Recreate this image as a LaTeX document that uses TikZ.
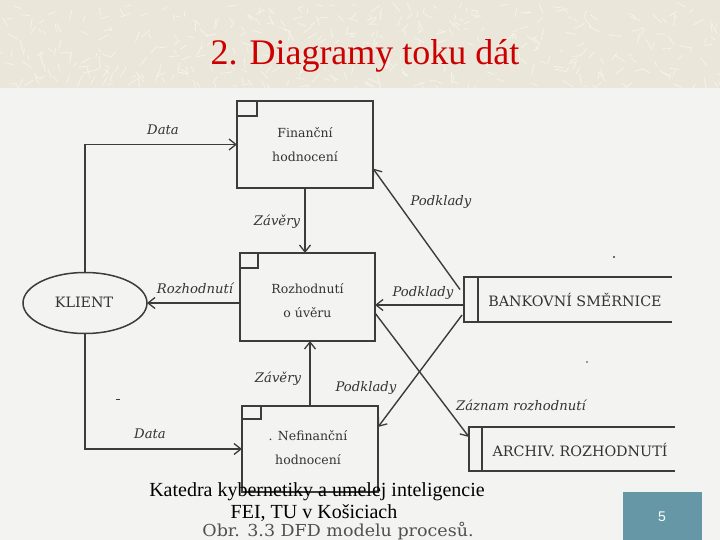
\documentclass[tikz,border=0pt]{standalone}
\usepackage{fontspec}
\setmainfont{Liberation Serif}
\newfontfamily\dv{DejaVu Serif}
\newfontfamily\numfont{Liberation Sans}
\usetikzlibrary{arrows.meta,shapes.geometric,calc}
\definecolor{ln}{HTML}{3C3C3C}
\definecolor{tx}{HTML}{333333}
\definecolor{band}{HTML}{EAE7DA}
\definecolor{bandln}{HTML}{F6F4EC}
\definecolor{scan}{HTML}{F3F3F1}
\definecolor{ttl}{HTML}{CC0000}
\definecolor{teal}{HTML}{6597A6}
\definecolor{cap}{HTML}{505050}
\begin{document}
\begin{tikzpicture}[x=1pt,y=-1pt,
  proc/.style={draw=ln, line width=1.5pt, inner sep=0pt, outer sep=0pt},
  corner/.style={draw=ln, line width=1.2pt},
  store/.style={inner sep=0pt, outer sep=0pt},
  arr/.style={draw=ln, line width=1.4pt, -{Straight Barb[length=7pt,width=11pt,line width=1.3pt]}},
  lab/.style={font=\dv\itshape\fontsize{13.2}{13}\selectfont, text=tx, inner sep=0pt},
  btext/.style={font=\dv\fontsize{12.5}{24}\selectfont, text=tx, inner sep=0pt, align=center},
  stext/.style={font=\dv\fontsize{14.3}{15}\selectfont, text=tx, inner sep=0pt},
  foot/.style={font=\fontsize{20}{22}\selectfont, text=black, inner sep=0pt}
]
\useasboundingbox (0,0) rectangle (720,540);
% backgrounds
\fill[scan] (0,88) rectangle (720,540);
\fill[band] (0,0) rectangle (720,88);
\pgfmathsetseed{7}
\foreach \i in {1,...,420}{
  \pgfmathsetmacro{\px}{rnd*720}
  \pgfmathsetmacro{\py}{rnd*84+2}
  \pgfmathsetmacro{\pa}{rnd*180}
  \pgfmathsetmacro{\pl}{4+rnd*8}
  \draw[bandln, line width=0.7pt] (\px,\py) -- ++(\pa:\pl);
}
% title
\node[font=\fontsize{36}{40}\selectfont, text=ttl, anchor=base, inner sep=0pt] (title) at (365,65) {2. Diagramy toku dát};

% processes
\node[proc, minimum width=136pt, minimum height=87pt] (fin) at (305,144.5) {};
\draw[corner] (fin.north west) rectangle ++(20,15);
\node[btext] (fint) at (305,145) {Finanční\\hodnocení};

\node[proc, minimum width=135pt, minimum height=88pt] (rozh) at (307.5,297) {};
\draw[corner] (rozh.north west) rectangle ++(18,15);
\node[btext] (rozht) at (307.5,300.5) {Rozhodnutí\\o úvěru};

\node[proc, minimum width=136pt, minimum height=86pt] (nef) at (310,449) {};
\draw[corner] (nef.north west) rectangle ++(19,13);
\node[btext] (neft) at (308,448) {. Nefinanční\\hodnocení};

% external entity
\node[ellipse, draw=ln, line width=1.5pt, minimum width=124pt, minimum height=61pt, inner sep=0pt, outer sep=0pt] (klient) at (85,303) {};
\node[stext] (klientt) at (84,302) {KLIENT};

% data stores
\node[store, minimum width=208pt, minimum height=45pt] (bank) at (568,299.5) {};
\draw[ln, line width=1.5pt] (bank.north east) -- (bank.north west) -- (bank.south west) -- (bank.south east);
\draw[ln, line width=1.5pt] ([xshift=14pt]bank.north west) -- ([xshift=14pt]bank.south west);
\node[stext] (bankt) at (575,300) {BANKOVNÍ SMĚRNICE};

\node[store, minimum width=206pt, minimum height=44pt] (arch) at (572,449) {};
\draw[ln, line width=1.5pt] (arch.north east) -- (arch.north west) -- (arch.south west) -- (arch.south east);
\draw[ln, line width=1.5pt] ([xshift=13pt]arch.north west) -- ([xshift=13pt]arch.south west);
\node[stext] (archt) at (580,450) {ARCHIV. ROZHODNUTÍ};

% flows
\draw[arr] (klient.north) |- (fin.west);
\node[lab] (l1) at (163,130) {Data};
\draw[arr] (klient.south) |- (nef.west);
\node[lab] (l2) at (150,434) {Data};
\draw[arr] (fin.south) -- (fin.south |- rozh.north);
\node[lab] (l3) at (277,222) {Závěry};
\draw[arr] (nef.north) -- (nef.north |- rozh.south);
\node[lab] (l4) at (278,379) {Závěry};
\draw[arr] ([yshift=-6pt]rozh.west) -- (klient.east);
\node[lab] (l5) at (195,288) {Rozhodnutí};
\draw[arr] ([xshift=-4pt,yshift=10pt]bank.west) -- ([yshift=-24pt]fin.east);
\node[lab] (l6) at (441,202) {Podklady};
\draw[arr] ([yshift=-5.5pt]bank.west) -- ([yshift=-8pt]rozh.east);
\node[lab] (l7) at (423,293) {Podklady};
\draw[arr] ([yshift=-16pt]rozh.east) -- ([yshift=12pt]arch.west);
\node[lab] (l8) at (521,405) {Záznam rozhodnutí};
\draw[arr] ([xshift=-2pt,yshift=-15.5pt]bank.west) -- ([yshift=22pt]nef.east);
\node[lab] (l9) at (366,388) {Podklady};

% scan specks
\fill[ln] (614,257) circle (1.2pt);
\fill[ln] (587,362) circle (0.9pt);
\fill[ln] (116,398.5) rectangle (120,400);

% footer
\node[foot, anchor=base] (f1) at (317,496) {Katedra kybernetiky a umelej inteligencie};
\node[foot, anchor=base] (f2) at (314,518) {FEI, TU v Košiciach};
\node[font=\dv\fontsize{16.5}{17}\selectfont, text=cap, anchor=base, inner sep=0pt, xscale=1.06, transform shape] (capt) at (338,536) {Obr. 3.3 DFD modelu procesů.};

% page number
\fill[teal] (623,492) rectangle (702,540);
\node[font=\numfont\fontsize{14}{14}\selectfont, text=white, inner sep=0pt] (pn) at (662,517) {5};
\end{tikzpicture}
\end{document}
